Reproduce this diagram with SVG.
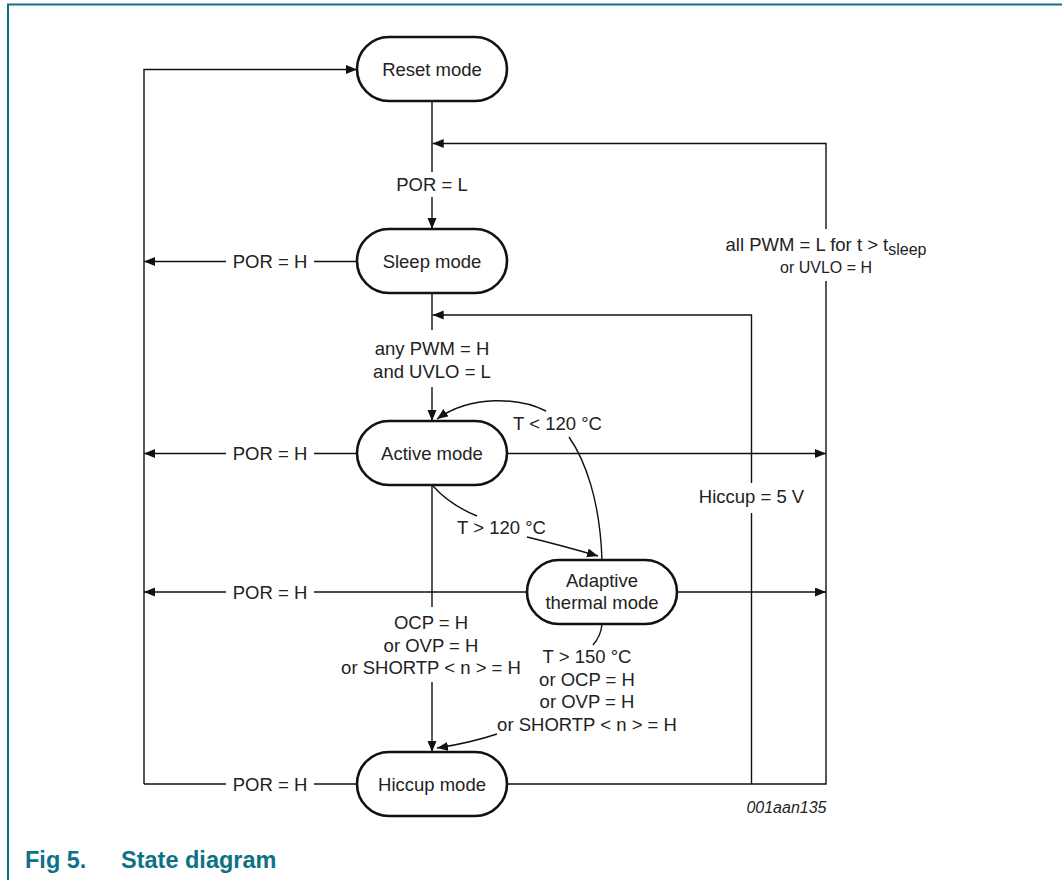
<svg xmlns="http://www.w3.org/2000/svg" width="1062" height="880" viewBox="0 0 1062 880">
<defs>
<style>
.node rect{fill:#fff;stroke:#111;stroke-width:2.6}
.t{font-family:"Liberation Sans",Arial,sans-serif;font-size:18.5px;fill:#222;text-anchor:middle}
.sm{font-size:16px}
.ln{fill:none;stroke:#111;stroke-width:1.4}
.cap{font-family:"Liberation Sans",Arial,sans-serif;font-size:23.5px;font-weight:bold;fill:#0f7186}
</style>
<marker id="ah" markerUnits="userSpaceOnUse" markerWidth="12" markerHeight="10" refX="11" refY="4.5" orient="auto">
<path d="M0,0 L11,4.5 L0,9 z" fill="#111"/>
</marker>
</defs>
<rect width="1062" height="880" fill="#fff"/>
<path d="M8,880 V4.5 H1062" fill="none" stroke="#0f7186" stroke-width="2"/>

<g id="connectors">
<path class="ln" d="M144,784 V69.5 H357" marker-end="url(#ah)"/>
<path class="ln" d="M432,101 V172"/>
<path class="ln" d="M432,197 V229" marker-end="url(#ah)"/>
<path class="ln" d="M826,229 V143.5 H432.7" marker-end="url(#ah)"/>
<path class="ln" d="M826,281 V784 H507"/>
<path class="ln" d="M357,261.5 H314"/>
<path class="ln" d="M226,261.5 H144" marker-end="url(#ah)"/>
<path class="ln" d="M432,293 V330"/>
<path class="ln" d="M432,387 V421" marker-end="url(#ah)"/>
<path class="ln" d="M751.5,784 V513"/>
<path class="ln" d="M751.5,483 V315 H432.7" marker-end="url(#ah)"/>
<path class="ln" d="M357,453.5 H314"/>
<path class="ln" d="M226,453.5 H144" marker-end="url(#ah)"/>
<path class="ln" d="M507,453.5 H826" marker-end="url(#ah)"/>
<path class="ln" d="M602,560 C600,500 585,460 569,437"/>
<path class="ln" d="M546,411 C520,398 472,394 437,419" marker-end="url(#ah)"/>
<path class="ln" d="M433,486 Q450,505 477,516"/>
<path class="ln" d="M527,537 Q560,545 598,556" marker-end="url(#ah)"/>
<path class="ln" d="M527,592 H314"/>
<path class="ln" d="M226,592 H144" marker-end="url(#ah)"/>
<path class="ln" d="M677,592 H826" marker-end="url(#ah)"/>
<path class="ln" d="M432,485 V607"/>
<path class="ln" d="M432,682 V752" marker-end="url(#ah)"/>
<path class="ln" d="M602,624 Q601,636 593,645"/>
<path class="ln" d="M497,734 Q470,743 437,748" marker-end="url(#ah)"/>
<path class="ln" d="M357,784 H314"/>
<path class="ln" d="M226,784 H144"/>
</g>

<g id="labels">
<text class="t" x="432" y="191">POR = L</text>
<text class="t" x="270" y="268">POR = H</text>
<text class="t" x="270" y="460">POR = H</text>
<text class="t" x="270" y="598.5">POR = H</text>
<text class="t" x="270" y="790.5">POR = H</text>
<text class="t" x="826" y="251">all PWM = L for t &gt; t<tspan class="sm" dy="4">sleep</tspan></text>
<text class="t sm" x="826" y="273">or UVLO = H</text>
<text class="t" x="432" y="355">any PWM = H</text>
<text class="t" x="432" y="378">and UVLO = L</text>
<text class="t" x="557.5" y="430">T &lt; 120 °C</text>
<text class="t" x="501.5" y="534">T &gt; 120 °C</text>
<text class="t" x="751.5" y="503">Hiccup = 5 V</text>
<text class="t" x="431" y="629">OCP = H</text>
<text class="t" x="431" y="651.5">or OVP = H</text>
<text class="t" x="431" y="674">or SHORTP &lt; n &gt; = H</text>
<text class="t" x="587" y="663">T &gt; 150 °C</text>
<text class="t" x="587" y="685.5">or OCP = H</text>
<text class="t" x="587" y="708">or OVP = H</text>
<text class="t" x="587" y="730.5">or SHORTP &lt; n &gt; = H</text>
</g>

<g id="reset" class="node"><rect x="357" y="37" width="150" height="64" rx="32"/><text class="t" x="432" y="76">Reset mode</text></g>
<g id="sleep" class="node"><rect x="357" y="229" width="150" height="64" rx="32"/><text class="t" x="432" y="268">Sleep mode</text></g>
<g id="active" class="node"><rect x="357" y="421" width="150" height="64" rx="32"/><text class="t" x="432" y="460">Active mode</text></g>
<g id="adaptive" class="node"><rect x="527" y="560" width="150" height="64" rx="32"/><text class="t" x="602" y="586.5">Adaptive</text><text class="t" x="602" y="609">thermal mode</text></g>
<g id="hiccup" class="node"><rect x="357" y="752" width="150" height="64" rx="32"/><text class="t" x="432" y="791">Hiccup mode</text></g>

<text x="826.5" y="812.5" style="font-family:'Liberation Sans',Arial,sans-serif;font-size:16px;font-style:italic;fill:#222;text-anchor:end">001aan135</text>
<text class="cap" x="25" y="868">Fig 5.</text>
<text class="cap" x="121" y="868">State diagram</text>
</svg>
